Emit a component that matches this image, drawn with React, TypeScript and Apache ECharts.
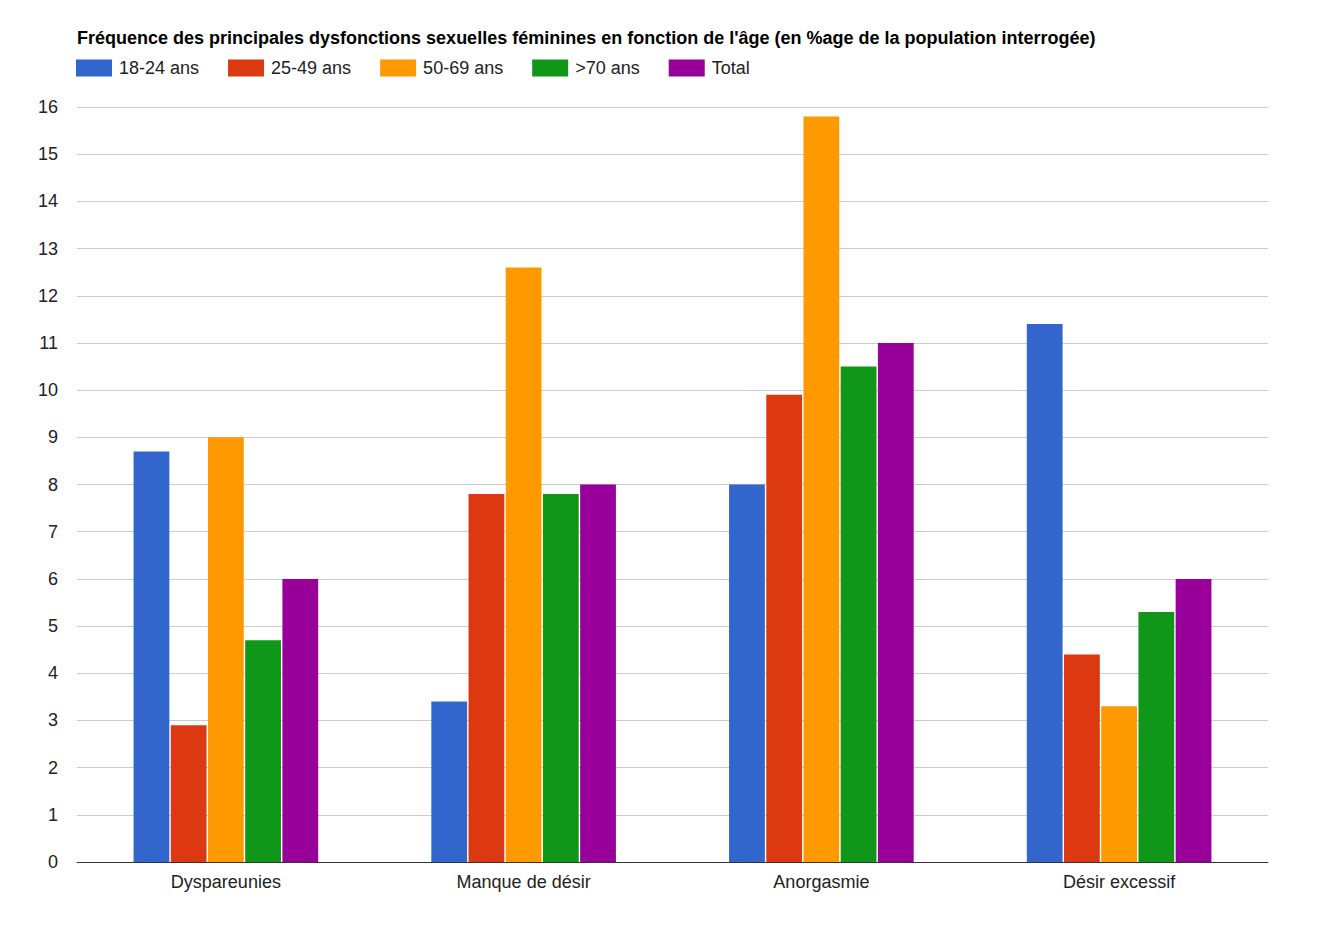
import React, { useEffect, useRef } from "react";
import * as echarts from "echarts";

const categories = ["Dyspareunies", "Manque de désir", "Anorgasmie", "Désir excessif"];
const seriesNames = ["18-24 ans", "25-49 ans", "50-69 ans", ">70 ans", "Total"];
const s1824 = [8.7, 3.4, 8, 11.4];
const s2549 = [2.9, 7.8, 9.9, 4.4];
const s5069 = [9, 12.6, 15.8, 3.3];
const s70 = [4.7, 7.8, 10.5, 5.3];
const sTotal = [6, 8, 11, 6];
const colors = ["#3366cc", "#dc3912", "#ff9900", "#109618", "#990099"];
const titleText = "Fréquence des principales dysfonctions sexuelles féminines en fonction de l'âge (en %age de la population interrogée)";

export default function App() {
  const ref = useRef<HTMLDivElement>(null);
  useEffect(() => {
    if (!ref.current) return;
    const chart = echarts.init(ref.current, null, { renderer: "svg" });
    const data = [s1824, s2549, s5069, s70, sTotal];
    chart.setOption({
      animation: false,
      color: colors,
      textStyle: { fontFamily: "Liberation Sans, Arial, sans-serif" },
      title: {
        text: titleText,
        left: 64,
        top: 16,
        textStyle: { fontSize: 18, fontWeight: "bold", color: "#000", fontFamily: "Liberation Sans, Arial, sans-serif" },
      },
      legend: {
        left: 63,
        top: 46,
        itemWidth: 36,
        itemHeight: 17,
        itemGap: 29,
        icon: "rect",
        textStyle: { fontSize: 18, color: "#222", padding: [0, 0, 0, 2] },
        data: seriesNames,
      },
      grid: { left: 69, right: 47, top: 99, bottom: 61 },
      xAxis: {
        type: "category",
        data: categories,
        axisTick: { show: false },
        axisLine: { lineStyle: { color: "#333", width: 1 } },
        axisLabel: { fontSize: 18, color: "#222", margin: 11 },
      },
      yAxis: {
        type: "value",
        min: 0,
        max: 16,
        interval: 1,
        axisLabel: { fontSize: 18, color: "#222", margin: 19 },
        splitLine: { lineStyle: { color: "#cccccc" } },
        axisLine: { show: false },
        axisTick: { show: false },
      },
      series: seriesNames.map((n, i) => ({
        name: n,
        type: "bar",
        data: data[i],
        barCategoryGap: "38%",
        barGap: "4%",
      })),
    });
    return () => chart.dispose();
  }, []);
  return <div ref={ref} style={{ width: 1307, height: 915 }} />;
}
